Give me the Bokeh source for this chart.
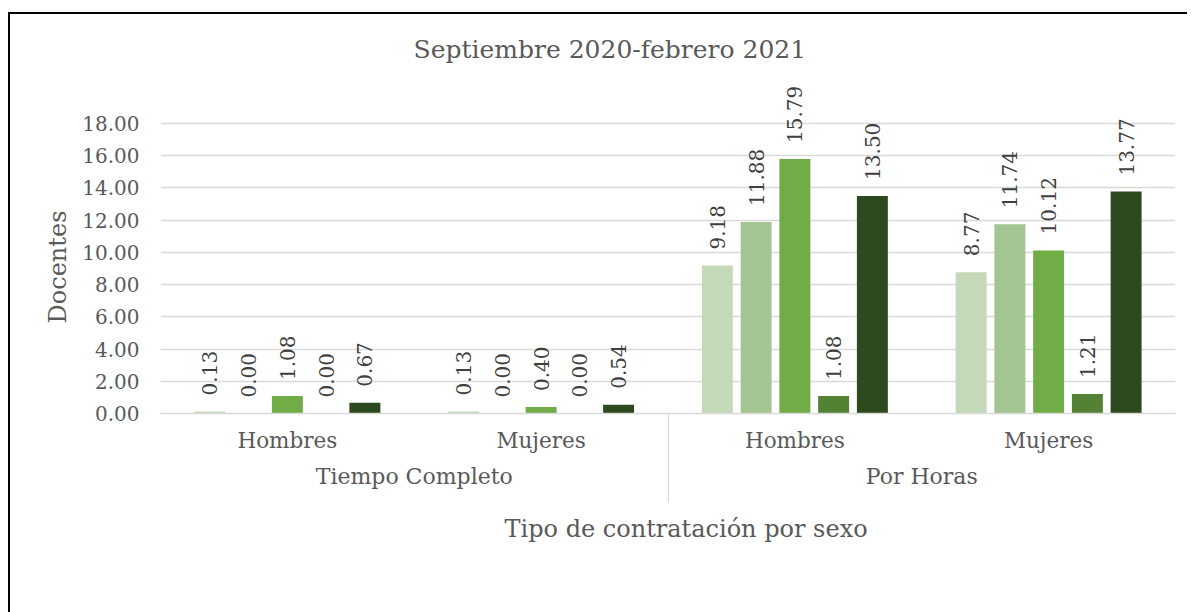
from bokeh.plotting import figure
from bokeh.models import (FactorRange, ColumnDataSource, Legend, LegendItem, FixedTicker,
                          PrintfTickFormatter, Range1d, CategoricalAxis, Title)
from bokeh.transform import dodge
from bokeh.core.properties import value
from bokeh.embed import file_html
from bokeh.resources import INLINE
import math

# ---- data ----
groups = ["Tiempo Completo", "Tiempo Completo", "Por Horas", "Por Horas"]
sexes = ["Hombres", "Mujeres", "Hombres", "Mujeres"]
series_names = ["Manzanillo", "Tecomán", "Colima", "Coquimatlán", "Villa de Álvarez"]
manzanillo = [0.13, 0.13, 9.18, 8.77]
tecoman = [0.00, 0.00, 11.88, 11.74]
colima = [1.08, 0.40, 15.79, 10.12]
coquimatlan = [0.00, 0.00, 1.08, 1.21]
villa = [0.67, 0.54, 13.50, 13.77]
y_ticks = [0, 2, 4, 6, 8, 10, 12, 14, 16, 18]
series_values = [manzanillo, tecoman, colima, coquimatlan, villa]
colors = ["#C4D9BA", "#A3C592", "#70AD47", "#548235", "#2D4A1E"]

FONT = "DejaVu Serif"
GRAY = "#595959"
LINE = "#D9D9D9"

factors = list(zip(groups, sexes))
src = {"x": factors}
for i, vals in enumerate(series_values):
    src[f"s{i}"] = vals
    src[f"l{i}"] = [f"{v:.2f}" for v in vals]
source = ColumnDataSource(src)

x_range = FactorRange(*factors, factor_padding=0, group_padding=0, range_padding=0)

p = figure(x_range=x_range, y_range=Range1d(0, 20.6), frame_width=1015, frame_height=332,
           output_backend="svg", toolbar_location=None,
           min_border_left=150, min_border_right=12, min_border_top=67, min_border_bottom=0)
p.styles = {"border-left": "2px solid #000", "border-top": "2px solid #000",
            "margin-top": "12px", "margin-left": "8px"}
p.outline_line_color = None
p.background_fill_color = "white"

# title
p.title.text = "Septiembre 2020-febrero 2021"
p.title.align = "left"
p.title.offset = 253
p.title.text_font = FONT
p.title.text_font_size = "25px"
p.title.text_font_style = "normal"
p.title.text_color = GRAY
p.title.standoff = 35

step = 0.1527
bw = 0.122
items = []
for i, name in enumerate(series_names):
    off = (i - 2) * step
    r = p.vbar(x=dodge("x", off, range=x_range), top=f"s{i}", width=bw, source=source,
               fill_color=colors[i], line_color=None)
    items.append(LegendItem(label=name, renderers=[r]))
    p.text(x=dodge("x", off, range=x_range), y=f"s{i}", text=f"l{i}", source=source,
           angle=math.pi / 2, text_align="left", text_baseline="middle", y_offset=-16,
           text_font=value(FONT), text_font_size="20px", text_color="#404040")

# y axis
yax = p.yaxis[0]
yax.ticker = FixedTicker(ticks=y_ticks)
yax.formatter = PrintfTickFormatter(format="%.2f")
yax.axis_line_color = None
yax.major_tick_line_color = None
yax.minor_tick_line_color = None
yax.major_label_standoff = 15
yax.major_label_text_font = FONT
yax.major_label_text_font_size = "20px"
yax.major_label_text_color = GRAY

ytitle = Title(text="Docentes", align="left", offset=90, standoff=15,
               text_font=FONT, text_font_size="24px", text_font_style="normal", text_color=GRAY)
p.add_layout(ytitle, "left")

p.ygrid.grid_line_color = LINE
p.ygrid.grid_line_width = 1.3
p.xgrid.grid_line_color = None

# x axis (categorical, two levels)
xax = p.xaxis[0]
xax.axis_line_color = None
xax.major_tick_line_color = None
xax.minor_tick_line_color = None
xax.major_label_standoff = 8
xax.major_label_text_font = FONT
xax.major_label_text_font_size = "21.5px"
xax.major_label_text_color = GRAY
xax.group_text_font = FONT
xax.group_text_font_size = "22px"
xax.group_text_font_style = "normal"
xax.group_text_color = GRAY
xax.separator_line_color = None

# axis line + category boundary lines (ticks of a helper axis at the frame edges and middle)
p.extra_x_ranges = {"sep": FactorRange(" ", "  ", "   ", range_padding=-0.99,
                                       range_padding_units="absolute")}
sep_axis = CategoricalAxis(x_range_name="sep",
                           major_tick_in=-89, major_tick_out=0,
                           major_tick_line_color=LINE, major_tick_line_width=1.3,
                           axis_line_color=LINE, axis_line_width=1.3,
                           minor_tick_line_color=None, major_label_standoff=0,
                           major_label_text_font_size="0px", major_label_text_alpha=0)

xtitle = Title(text="Tipo de contratación por sexo", align="left", offset=344, standoff=43,
               text_font=FONT, text_font_size="24px", text_font_style="normal", text_color=GRAY)

# legend in a single row in the bottom panel
legend = Legend(items=items, orientation="horizontal", nrows=1, location="center_left",
                border_line_color=None, background_fill_alpha=0,
                glyph_width=15, glyph_height=15, label_standoff=5, spacing=74, padding=0, margin=6,
                label_text_font=FONT, label_text_font_size="21px", label_text_color=GRAY)

p.below = [sep_axis, xax, xtitle, legend]

open("out.html", "w").write(file_html(p, INLINE))
